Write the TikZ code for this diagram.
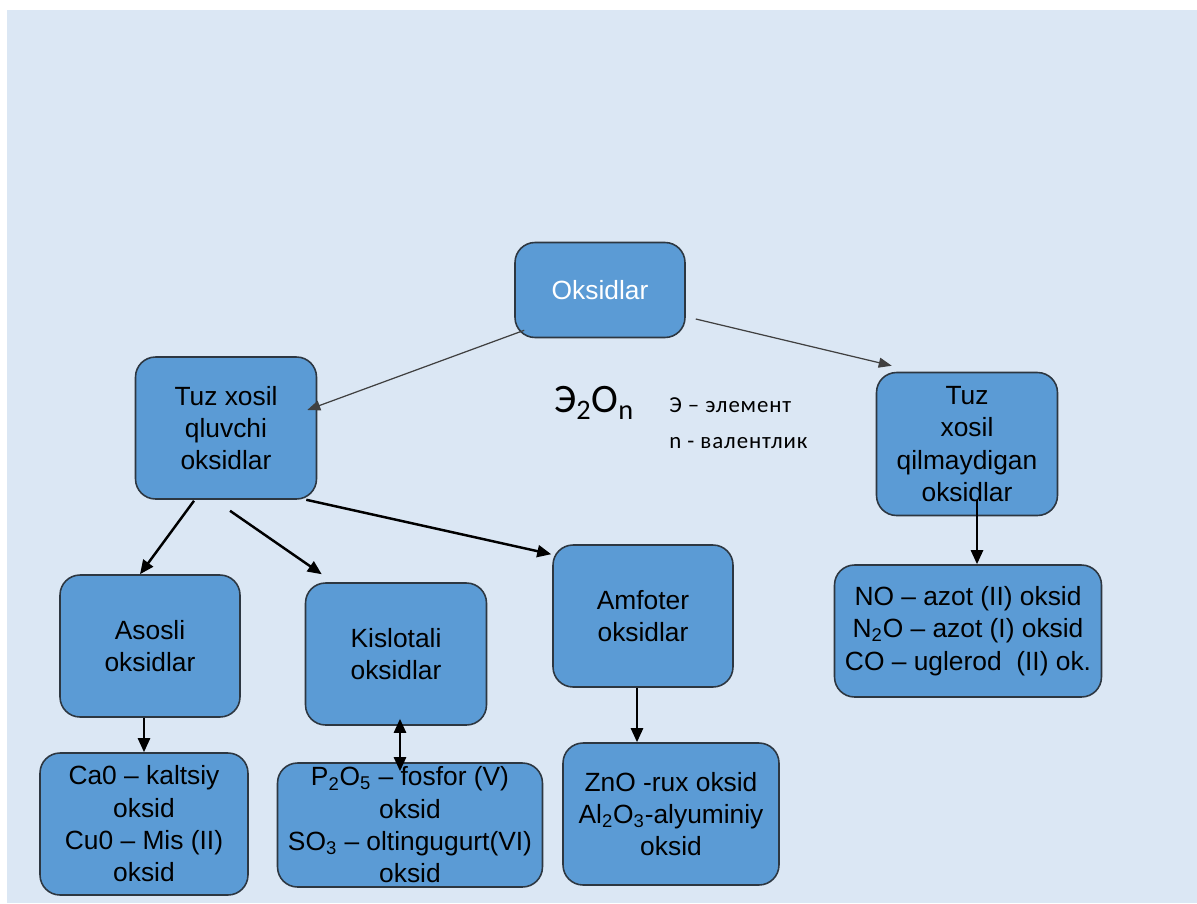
\documentclass[tikz,border=0pt]{standalone}
\usepackage{fontspec}
\setmainfont{Liberation Sans}
\newfontfamily\calib{Carlito}
\newfontfamily\calibsp[LetterSpace=4]{Carlito}
\usetikzlibrary{arrows.meta,calc}
\definecolor{bg}{RGB}{219,231,244}
\definecolor{boxfill}{RGB}{91,155,213}
\definecolor{boxline}{RGB}{45,55,65}
\tikzset{
  ox/.style={draw=boxline, line width=0.9pt, fill=boxfill, rounded corners=0.4cm,
    align=center, font=\fontsize{15}{18.4}\selectfont, inner sep=0pt},
  thinarr/.style={draw=black!75, line width=0.7pt, -{Triangle[length=0.26cm,width=0.2cm]}},
  thickarr/.style={draw=black, line width=1.4pt, -{Triangle[length=0.28cm,width=0.24cm]}},
  boththick/.style={draw=black, line width=1.4pt, {Triangle[length=0.28cm,width=0.24cm]}-{Triangle[length=0.28cm,width=0.24cm]}},
}
\begin{document}
\begin{tikzpicture}[x=0.02cm,y=-0.02cm]
\useasboundingbox (0,0) rectangle (1197,903);
\fill[white] (0,0) rectangle (1197,903);
\fill[bg] (7,10) rectangle (1197,903);

\node[ox, minimum width=3.4cm, minimum height=1.9cm, text=white] (ox) at (600,290) {Oksidlar};
\node[ox, minimum width=3.62cm, minimum height=2.84cm] (tx) at (226,428) {Tuz xosil\\qluvchi\\oksidlar};
\node[ox, minimum width=3.62cm, minimum height=2.86cm] (tq) at (967,444) {Tuz\\xosil\\qilmaydigan\\oksidlar};
\node[ox, minimum width=3.6cm, minimum height=2.84cm] (as) at (150,646) {Asosli\\oksidlar};
\node[ox, minimum width=3.62cm, minimum height=2.84cm] (ki) at (396,654) {Kislotali\\oksidlar};
\node[ox, minimum width=3.6cm, minimum height=2.84cm] (am) at (643,616) {Amfoter\\oksidlar};
\node[ox, minimum width=4.16cm, minimum height=2.84cm] (ca) at (144,824) {Ca0 -- kaltsiy\\oksid\\Cu0 -- Mis (II)\\oksid};
\node[ox, minimum width=5.3cm, minimum height=2.48cm] (p2) at (410,825) {P\textsubscript{2}O\textsubscript{5} -- fosfor (V)\\oksid\\SO\textsubscript{3} -- oltingugurt(VI)\\oksid};
\node[ox, minimum width=4.32cm, minimum height=2.84cm] (zn) at (671,814) {ZnO -rux oksid\\Al\textsubscript{2}O\textsubscript{3}-alyuminiy\\oksid};
\node[ox, minimum width=5.34cm, minimum height=2.64cm] (no) at (968,631) {NO -- azot (II) oksid\\N\textsubscript{2}O -- azot (I) oksid\\CO -- uglerod\ \ (II) ok.};

\node[anchor=west, inner sep=0pt, font=\calib\fontsize{23}{26}\selectfont] (fo) at (554,403) {Э\textsubscript{2}O\textsubscript{n}};
\node[anchor=west, inner sep=0pt, font=\calibsp\fontsize{13}{15}\selectfont] (l1) at (669,405) {Э – элемент};
\node[anchor=west, inner sep=0pt, font=\calibsp\fontsize{13}{15}\selectfont] (l2) at (669,443) {n - валентлик};

\draw[thinarr] ($(ox.south west)+(10,-8)$) -- ($(tx.east)+(-10,-18)$);
\draw[thinarr] ($(ox.east)+(10,29)$) -- ($(tq.north west)+(16,-6)$);
\draw[thickarr] ($(tx.south)+(-32,1)$) -- ($(as.north)+(-10,0)$);
\draw[thickarr] ($(tx.south)+(4,11)$) -- ($(ki.north west)+(17,-8)$);
\draw[thickarr] ($(tx.south east)+(-11,0)$) -- ($(am.north west)+(-1,10)$);
\draw[thickarr] ($(as.south)+(-6,0)$) -- (ca.north);
\draw[boththick] ($(ki.south)+(4,-7)$) -- ($(p2.north)+(-10,9)$);
\draw[thickarr] ($(am.south)+(-6,0)$) -- ($(zn.north)+(-34,0)$);
\draw[thickarr] ($(tq.south)+(10,-16)$) -- ($(no.north)+(9,0)$);
\end{tikzpicture}
\end{document}
